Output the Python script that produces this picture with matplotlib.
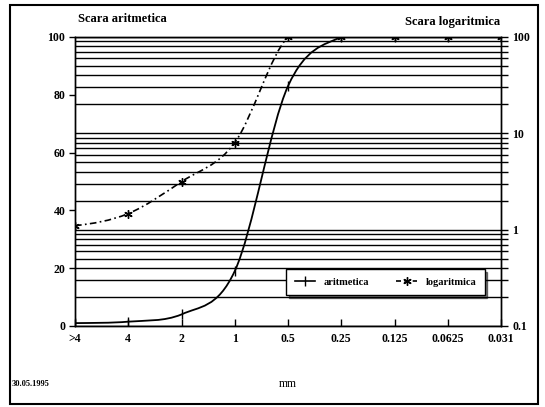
import numpy as np
import matplotlib
matplotlib.use("Agg")
import matplotlib.pyplot as plt
from matplotlib.path import Path
from matplotlib.patches import PathPatch, Rectangle
from matplotlib.lines import Line2D
from matplotlib.ticker import FixedLocator, NullFormatter, LogLocator

SIZES = [">4", "4", "2", "1", "0.5", "0.25", "0.125", "0.0625", "0.031"]
ARITMETICA = [1, 1.5, 4, 19, 83, 100, 100, 100, 100]
LOGARITMICA = [1.1, 1.47, 3.15, 8, 100, 100, 100, 100, 100]
LEFT_TICKS = [0, 20, 40, 60, 80, 100]
RIGHT_TICKS = [0.1, 1, 10, 100]
RIGHT_LABELS = ["0.1", "1", "10", "100"]


def smooth_path(x, y):
    # catmull-rom style bezier through the points, like the old "smoothed line" option
    x = np.asarray(x, float); y = np.asarray(y, float)
    verts = [(x[0], y[0])]; codes = [Path.MOVETO]
    n = len(x)
    for i in range(n - 1):
        p0 = y[max(i - 1, 0)]; p1 = y[i]; p2 = y[i + 1]; p3 = y[min(i + 2, n - 1)]
        lo, hi = min(p1, p2), max(p1, p2)
        c1 = np.clip(p1 + (p2 - p0) / 6, lo, hi)
        c2 = np.clip(p2 - (p3 - p1) / 6, lo, hi)
        dx = (x[i + 1] - x[i]) / 3
        verts += [(x[i] + dx, c1), (x[i + 1] - dx, c2), (x[i + 1], p2)]
        codes += [Path.CURVE4] * 3
    return np.array(verts), codes


plt.rcParams.update({"font.family": "Liberation Serif", "font.weight": "bold", "font.size": 8.5})
fig = plt.figure(figsize=(5.45, 4.07), dpi=100)
ax = fig.add_axes([75/545, 1-326/407, 426/545, 289/407])
ax2 = ax.twinx()

xs = np.arange(len(SIZES))

# arithmetic scale
v, c = smooth_path(xs, ARITMETICA)
ax.add_patch(PathPatch(Path(v, c), fill=False, edgecolor="black", lw=1.3))
ax.plot(xs, ARITMETICA, ls="none", marker="|", ms=7, mew=1.0, color="black")
ax.set_xlim(0, len(SIZES) - 1)
ax.set_ylim(0, 100)
ax.set_xticks(xs)
ax.set_xticklabels(SIZES)
ax.set_yticks(LEFT_TICKS)
ax.tick_params(axis="x", direction="in", length=5, width=1, pad=5)
ax.tick_params(axis="y", direction="out", length=4, width=1, pad=3)
ax.set_xlabel("mm", labelpad=24)

# logarithmic scale
v, c = smooth_path(xs, np.log10(LOGARITMICA))
v[:, 1] = 10 ** v[:, 1]
ax2.add_patch(PathPatch(Path(v, c), fill=False, edgecolor="black", lw=1.2, linestyle=(0, (4, 2, 1, 2))))
ax2.plot(xs, LOGARITMICA, ls="none", marker=(6, 2, 0), ms=6, mew=1.0, color="black")
ax2.set_yscale("log")
ax2.set_ylim(0.1, 100)
ax2.yaxis.set_major_locator(FixedLocator(RIGHT_TICKS))
ax2.set_yticklabels(RIGHT_LABELS)
ax2.yaxis.set_minor_locator(LogLocator(base=10, subs=np.arange(2, 10)))
ax2.yaxis.set_minor_formatter(NullFormatter())
ax2.tick_params(axis="y", which="both", direction="out", length=5, width=1, pad=3)
ax2.grid(True, which="both", axis="y", color="black", linewidth=1.0)

for a in (ax, ax2):
    for s in a.spines.values():
        s.set_linewidth(1.0)

handles = [Line2D([], [], color="black", lw=1.2, marker="|", ms=7),
           Line2D([], [], color="black", lw=1.2, ls=(0, (3, 2)), marker=(6, 2, 0), ms=6)]
ax2.legend(handles, ["aritmetica", "logaritmica"], ncol=2, loc="upper left",
           bbox_to_anchor=(281/545, 1-264/407), bbox_transform=fig.transFigure,
           fancybox=False, framealpha=1, edgecolor="black", shadow={"color": "black"},
           handlelength=2.0, columnspacing=2.6, borderpad=0.8, fontsize=7.5)

fig.text(78/545, 1-19/407, "Scara aritmetica", fontsize=9, va="center", ha="left")
fig.text(500/545, 1-22/407, "Scara logaritmica", fontsize=9, va="center", ha="right")
fig.text(12/545, 1-384/407, "30.05.1995", fontsize=6, va="center", ha="left")
fig.patches.append(Rectangle((10/545, 3/407), 528/545, 399/407, transform=fig.transFigure,
                             fill=False, edgecolor="black", lw=1.5))

fig.savefig("out.png", dpi=100)
